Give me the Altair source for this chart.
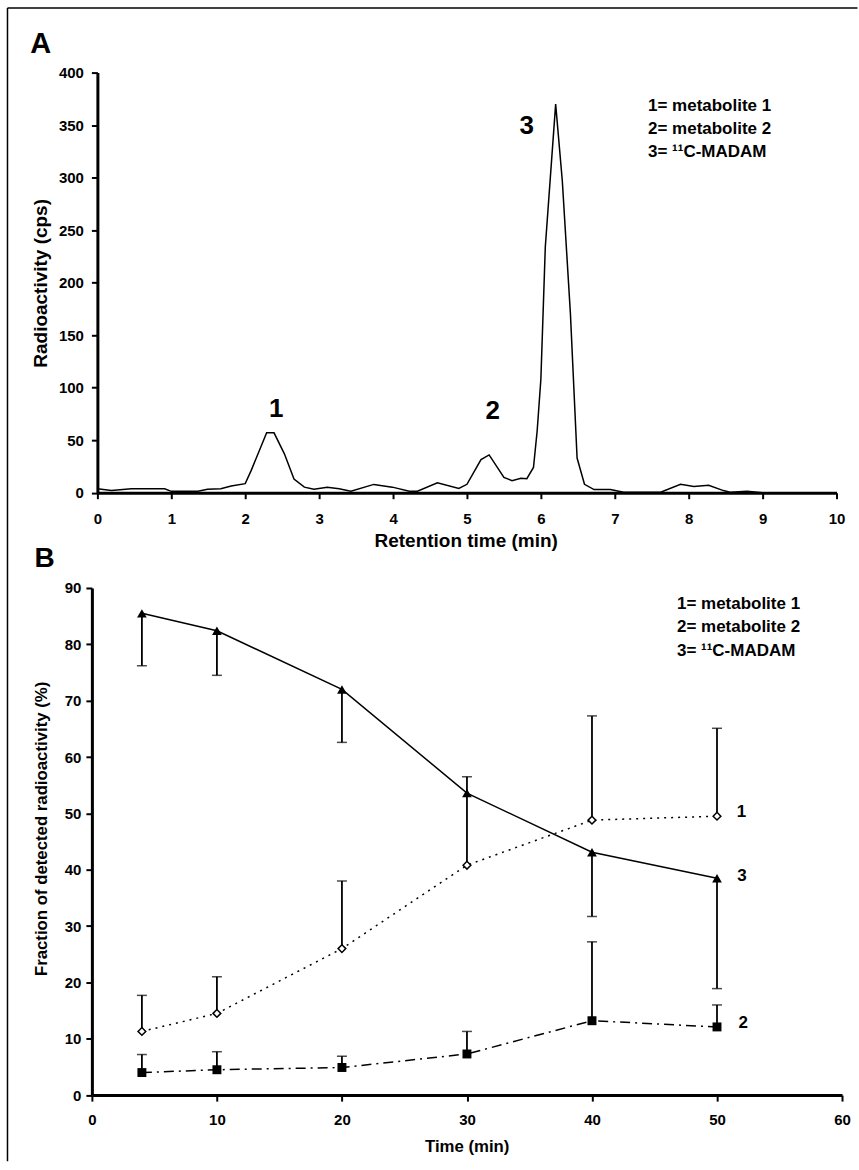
import altair as alt
import pandas as pd

FONT = "Liberation Sans"

# ---------------- Panel A: radio-chromatogram ----------------
rt_min = [0.0, 0.19, 0.46, 0.91, 1.0, 1.36, 1.49, 1.67, 1.81, 2.0, 2.08, 2.29, 2.39, 2.53,
          2.66, 2.80, 2.93, 3.11, 3.27, 3.43, 3.74, 3.99, 4.22, 4.33, 4.60, 4.89, 5.0, 5.19,
          5.30, 5.50, 5.61, 5.73, 5.81, 5.90, 5.95, 6.0, 6.06, 6.2, 6.29, 6.4, 6.49, 6.59,
          6.72, 6.94, 7.12, 7.62, 7.89, 8.07, 8.27, 8.47, 8.56, 8.79, 9.0, 10.0]
cps = [3.8, 2.2, 3.8, 3.8, 1.3, 1.3, 3.2, 3.8, 6.3, 8.6, 21, 57, 57, 37,
       13, 5.3, 3.2, 5.3, 3.8, 1.5, 7.9, 5.3, 1.5, 1.5, 9.5, 4, 8, 31.6,
       36, 14.6, 11.5, 13.7, 13.3, 24, 59, 108, 234, 370, 297, 170, 33, 8,
       3, 3, 0.5, 0.5, 8, 6, 7, 2, 0.5, 1.5, 0, 0]

peak_labels = ["1", "2", "3"]
peak_x = [2.42, 5.35, 5.81]
peak_y = [79.6, 78.0, 349.6]

legend_lines = ["1= metabolite 1", "2= metabolite 2", "3= \u00b9\u00b9C-MADAM"]
legendA_x = [7.45, 7.45, 7.45]
legendA_y = [368.6, 346.4, 324.1]

# ---------------- Panel B: metabolite fractions ----------------
times = [4, 10, 20, 30, 40, 50]
m1_mean = [11.3, 14.5, 26.0, 40.8, 48.8, 49.5]
m1_upper = [17.7, 21.0, 38.0, 56.5, 67.3, 65.1]
m2_mean = [4.0, 4.5, 4.9, 7.3, 13.2, 12.1]
m2_upper = [7.2, 7.7, 6.9, 11.3, 27.2, 16.0]
madam_mean = [85.5, 82.4, 72.0, 53.6, 43.1, 38.5]
madam_lower = [76.2, 74.5, 62.6, None, 31.7, 18.9]

end_labels = ["1", "3", "2"]
end_x = [51.95, 52.0, 52.1]
end_y = [50.3, 38.8, 12.85]

legendB_x = [46.8, 46.8, 46.8]
legendB_y = [87.2, 83.0, 78.9]


def axis(values, title, title_size, tx, ty, angle, pad):
    return alt.Axis(values=values, title=title, grid=False,
                    domainColor="black", domainWidth=3,
                    tickColor="black", tickWidth=2, tickSize=6,
                    labelFont=FONT, labelFontWeight="bold", labelFontSize=15,
                    labelColor="black", labelPadding=pad, labelFlush=False,
                    labelOverlap=False,
                    titleFont=FONT, titleFontWeight="bold", titleFontSize=title_size,
                    titleColor="black", titleX=tx, titleY=ty, titleAngle=angle,
                    titleBaseline="alphabetic", titleAlign="center")


# ---- Panel A ----
A_W, A_H = 740, 420.6
xA = alt.X("x:Q", scale=alt.Scale(domain=[0, 10], nice=False, zero=False),
           axis=axis(list(range(0, 11)), "Retention time (min)", 19, 368.75, 53.9, 0, 13))
yA = alt.Y("y:Q", scale=alt.Scale(domain=[0, 400], nice=False),
           axis=axis(list(range(0, 401, 50)), "Radioactivity (cps)", 19, -51, 210.5, 270, 8))

chrom_df = pd.DataFrame({"x": rt_min, "y": cps})
line_A = alt.Chart(chrom_df).mark_line(color="black", strokeWidth=1.5).encode(x=xA, y=yA)

peak_df = pd.DataFrame({"x": peak_x, "y": peak_y, "t": peak_labels})
peaks_A = alt.Chart(peak_df).mark_text(font=FONT, fontWeight="bold", fontSize=26,
                                       color="black", baseline="middle").encode(
    x=xA, y=yA, text="t:N")

legA_df = pd.DataFrame({"x": legendA_x, "y": legendA_y, "t": legend_lines})
legend_A = alt.Chart(legA_df).mark_text(font=FONT, fontWeight="bold", fontSize=17,
                                        color="black", align="left", baseline="middle").encode(
    x=xA, y=yA, text="t:N")

one = pd.DataFrame({"t": ["A"]})
label_A = alt.Chart(one).mark_text(font=FONT, fontWeight="bold", fontSize=29,
                                   color="black", baseline="middle").encode(
    x=alt.value(-56.75), y=alt.value(-29), text="t:N")

border_top = alt.Chart(one).mark_rule(color="black", strokeWidth=1.5).encode(
    x=alt.value(-90), x2=alt.value(761), y=alt.value(-64.7))
border_left = alt.Chart(one).mark_rule(color="black", strokeWidth=1.5).encode(
    x=alt.value(-90), y=alt.value(-64.7), y2=alt.value(1090))

panel_A = alt.layer(border_top, border_left, line_A, peaks_A, legend_A, label_A).properties(
    width=A_W, height=A_H)

# ---- Panel B ----
B_W, B_H = 751, 507.7
xB = alt.X("x:Q", scale=alt.Scale(domain=[0, 60], nice=False, zero=False),
           axis=axis(list(range(0, 61, 10)), "Time (min)", 16.8, 375.25, 56.4, 0, 11))
yB = alt.Y("y:Q", scale=alt.Scale(domain=[0, 90], nice=False),
           axis=axis(list(range(0, 91, 10)), "Fraction of detected radioactivity (%)",
                     16.8, -45.85, 240.7, 270, 5))

rows, err_rows, cap_rows = [], [], []
for s, means, ends in [("m1", m1_mean, m1_upper), ("m2", m2_mean, m2_upper),
                       ("madam", madam_mean, madam_lower)]:
    for t, m, e in zip(times, means, ends):
        rows.append({"x": t, "y": m, "s": s})
        if e is not None:
            err_rows.append({"x": t, "y": m, "y2": e, "s": s})
            cap_rows.append({"x": t, "y": e, "s": s})
series_df = pd.DataFrame(rows)
err_df = pd.DataFrame(err_rows)
cap_df = pd.DataFrame(cap_rows)

base = alt.Chart(series_df)
err_bars = alt.Chart(err_df).mark_rule(color="black", strokeWidth=1.8).encode(
    x=xB, y=yB, y2=alt.Y2("y2:Q"))
err_caps = alt.Chart(cap_df).mark_tick(orient="horizontal", size=10, thickness=1.5,
                                       color="black").encode(x=xB, y=yB)

line_madam = base.transform_filter("datum.s == 'madam'").mark_line(
    color="black", strokeWidth=1.5).encode(x=xB, y=yB)
line_m1 = base.transform_filter("datum.s == 'm1'").mark_line(
    color="black", strokeWidth=1.5, strokeDash=[2, 5]).encode(x=xB, y=yB)
line_m2 = base.transform_filter("datum.s == 'm2'").mark_line(
    color="black", strokeWidth=1.5, strokeDash=[10, 5, 2, 5]).encode(x=xB, y=yB)

pts_madam = base.transform_filter("datum.s == 'madam'").mark_point(
    shape="triangle-up", filled=True, size=95, color="black", opacity=1).encode(x=xB, y=yB)
pts_m1 = base.transform_filter("datum.s == 'm1'").mark_point(
    shape="diamond", filled=True, fill="white", stroke="black", strokeWidth=1.5,
    size=60, opacity=1).encode(x=xB, y=yB)
pts_m2 = base.transform_filter("datum.s == 'm2'").mark_point(
    shape="square", filled=True, size=80, color="black", opacity=1).encode(x=xB, y=yB)

end_df = pd.DataFrame({"x": end_x, "y": end_y, "t": end_labels})
end_text = alt.Chart(end_df).mark_text(font=FONT, fontWeight="bold", fontSize=17,
                                       color="black", baseline="middle").encode(
    x=xB, y=yB, text="t:N")

legB_df = pd.DataFrame({"x": legendB_x, "y": legendB_y, "t": legend_lines})
legend_B = alt.Chart(legB_df).mark_text(font=FONT, fontWeight="bold", fontSize=17,
                                        color="black", align="left", baseline="middle").encode(
    x=xB, y=yB, text="t:N")

oneB = pd.DataFrame({"t": ["B"]})
label_B = alt.Chart(oneB).mark_text(font=FONT, fontWeight="bold", fontSize=28,
                                    color="black", baseline="middle").encode(
    x=alt.value(-47.25), y=alt.value(-29.3), text="t:N")

panel_B = alt.layer(err_bars, err_caps, line_madam, line_m1, line_m2,
                    pts_madam, pts_m1, pts_m2, end_text, legend_B, label_B).properties(
    width=B_W, height=B_H)

chart = alt.vconcat(panel_A, panel_B, spacing=95, bounds="flush", center=True).properties(
    padding={"left": 6, "top": 6, "right": 0, "bottom": 0},
    background="white",
).configure_view(stroke=None)

chart.save("out.html", embed_options={"renderer": "svg", "actions": False})
